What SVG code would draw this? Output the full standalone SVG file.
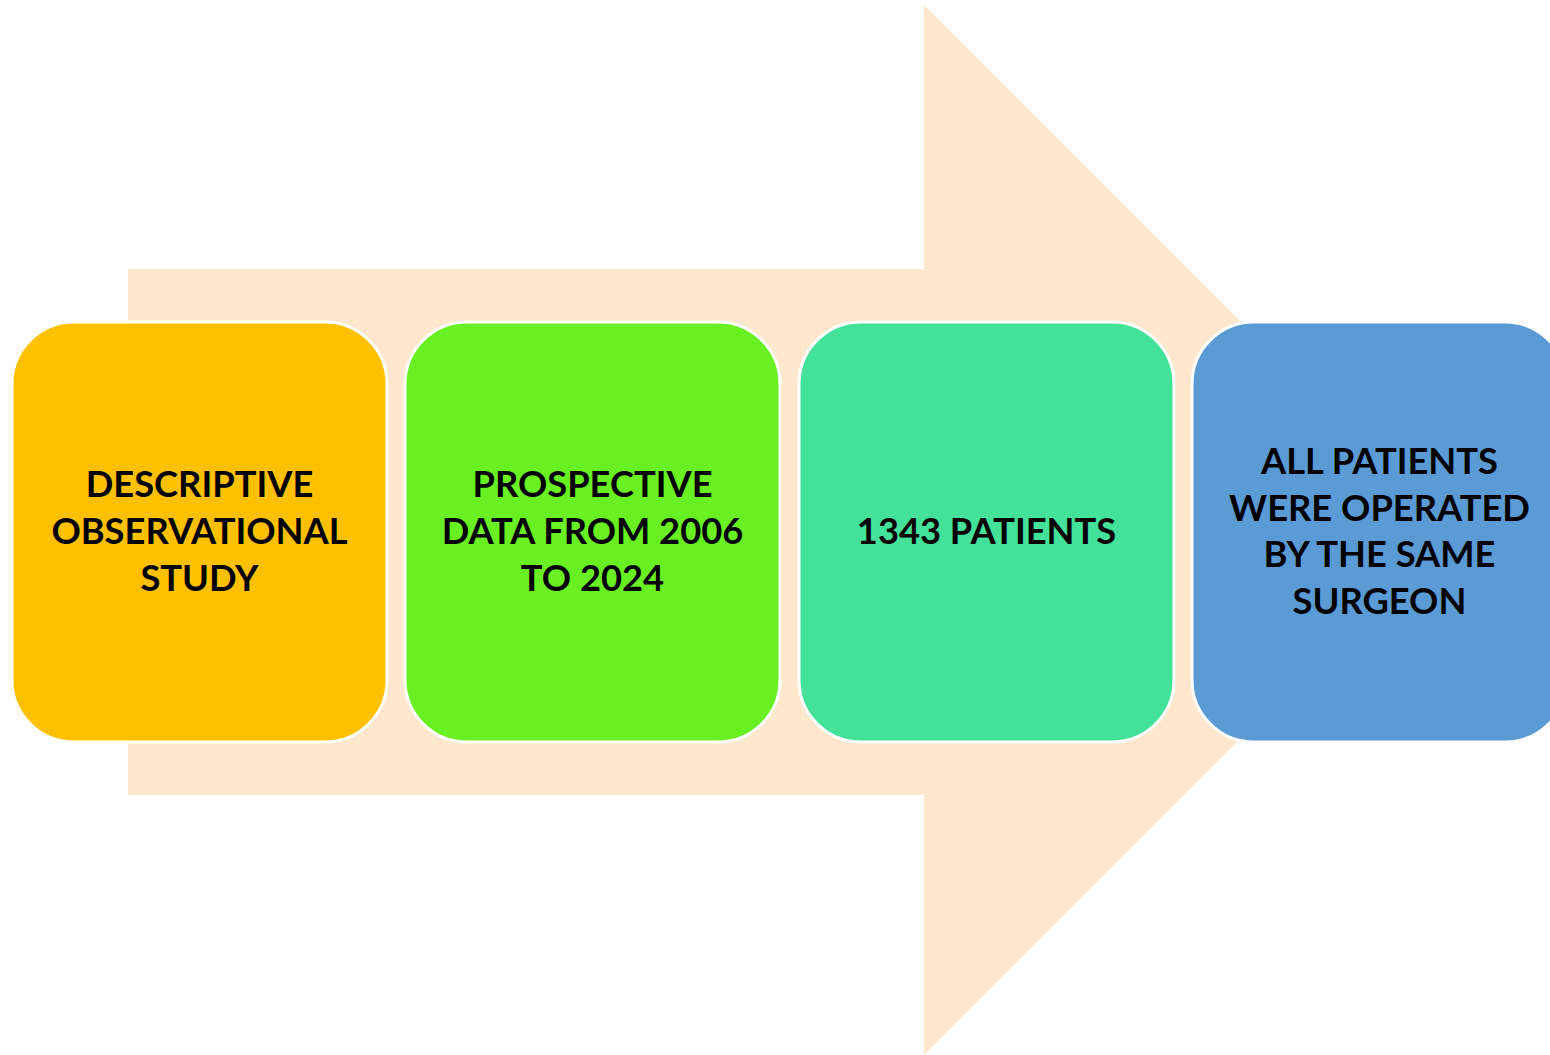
<svg xmlns="http://www.w3.org/2000/svg" width="1550" height="1055" viewBox="0 0 1550 1055">
<style>
.box{stroke:#FFFFFF;stroke-width:3}
.t{font-family:Lato,"Open Sans","Liberation Sans",sans-serif;font-weight:bold;font-size:36.3px;fill:#000;text-anchor:middle}
</style>
<rect width="1550" height="1055" fill="#FFFFFF"/>
<g id="arrow">
<polygon points="128,269 924,269 924,5 1449,530 924,1055 924,795 128,795" fill="#FEE7CD"/>
</g>
<g id="connectors"></g>
<g id="node1">
<rect class="box" x="12" y="322" width="375" height="420" rx="62" fill="#FFC000"/>
<text class="t" x="199.5" y="497">DESCRIPTIVE</text>
<text class="t" x="199.5" y="544">OBSERVATIONAL</text>
<text class="t" x="199.5" y="591">STUDY</text>
</g>
<g id="node2">
<rect class="box" x="405" y="322" width="375" height="420" rx="62" fill="#69F023"/>
<text class="t" x="592.5" y="497">PROSPECTIVE</text>
<text class="t" x="592.5" y="544">DATA FROM 2006</text>
<text class="t" x="592.5" y="591">TO 2024</text>
</g>
<g id="node3">
<rect class="box" x="799" y="322" width="375" height="420" rx="62" fill="#43E19A"/>
<text class="t" x="986.5" y="544">1343 PATIENTS</text>
</g>
<g id="node4">
<rect class="box" x="1192" y="322" width="375" height="420" rx="62" fill="#5B9BD5"/>
<text class="t" x="1379.5" y="474">ALL PATIENTS</text>
<text class="t" x="1379.5" y="521">WERE OPERATED</text>
<text class="t" x="1379.5" y="567">BY THE SAME</text>
<text class="t" x="1379.5" y="614">SURGEON</text>
</g>
</svg>
